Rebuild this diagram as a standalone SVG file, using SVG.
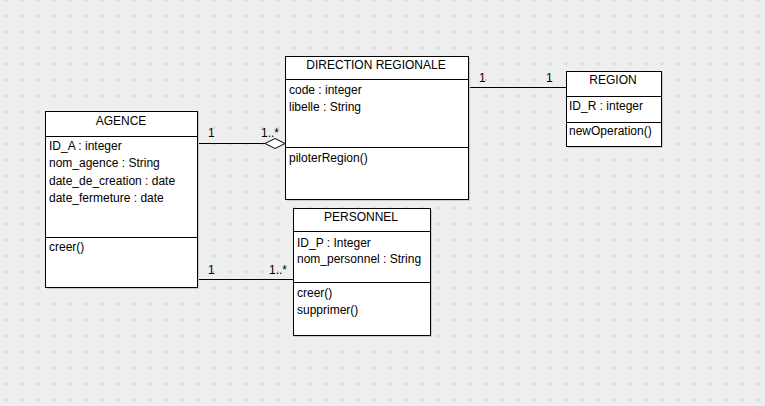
<svg xmlns="http://www.w3.org/2000/svg" width="765" height="406" viewBox="0 0 765 406">
<defs>
<pattern id="grid" x="5" y="-1" width="16" height="16" patternUnits="userSpaceOnUse">
<rect x="0" y="0" width="2" height="2" fill="#d4d4d4"/>
</pattern>
<style>
text{font-family:"Liberation Sans",Arial,sans-serif;font-size:12px;fill:#000}
.t{text-anchor:middle}
.box{fill:#fff;stroke:#000;stroke-width:1}
.sh{fill:#cccccc}
.sep{stroke:#000;stroke-width:1}
.ln{stroke:#000;stroke-width:1;fill:none}
</style>
</defs>
<rect width="765" height="406" fill="#eeeeee"/>
<rect width="765" height="406" fill="url(#grid)"/>

<g id="connectors">
<line class="ln" x1="197" y1="143.5" x2="265" y2="143.5"/>
<polygon points="265,143.5 275,138.5 285,143.5 275,148.5" fill="#fff" stroke="#000" stroke-width="1"/>
<text x="208" y="137">1</text>
<text x="261" y="137">1..*</text>
<line class="ln" x1="468" y1="87.5" x2="566" y2="87.5"/>
<text x="479" y="82">1</text>
<text x="546" y="82">1</text>
<line class="ln" x1="197" y1="279.5" x2="293" y2="279.5"/>
<text x="208" y="274">1</text>
<text x="269" y="274">1..*</text>
</g>

<g id="agence">
<rect class="sh" x="47" y="113" width="152" height="176"/>
<rect class="box" x="45.5" y="111.5" width="152" height="176"/>
<line class="sep" x1="45" y1="136.5" x2="197" y2="136.5"/>
<line class="sep" x1="45" y1="237.5" x2="197" y2="237.5"/>
<text class="t" x="121" y="125">AGENCE</text>
<text x="49" y="150">ID_A : integer</text>
<text x="49" y="167">nom_agence : String</text>
<text x="49" y="185">date_de_creation : date</text>
<text x="49" y="202">date_fermeture : date</text>
<text x="49" y="251">creer()</text>
</g>

<g id="direction-regionale">
<rect class="sh" x="287" y="58" width="183" height="143"/>
<rect class="box" x="285.5" y="56.5" width="183" height="143"/>
<line class="sep" x1="285" y1="79.5" x2="468" y2="79.5"/>
<line class="sep" x1="285" y1="147.5" x2="468" y2="147.5"/>
<text class="t" x="376" y="69">DIRECTION REGIONALE</text>
<text x="289" y="94">code : integer</text>
<text x="289" y="111">libelle : String</text>
<text x="289" y="162">piloterRegion()</text>
</g>

<g id="region">
<rect class="sh" x="568" y="73" width="95" height="75"/>
<rect class="box" x="566.5" y="71.5" width="95" height="75"/>
<line class="sep" x1="566" y1="96.5" x2="661" y2="96.5"/>
<line class="sep" x1="566" y1="122.5" x2="661" y2="122.5"/>
<text class="t" x="613" y="84">REGION</text>
<text x="569" y="110">ID_R : integer</text>
<text x="569" y="135">newOperation()</text>
</g>

<g id="personnel">
<rect class="sh" x="295" y="210" width="137" height="127"/>
<rect class="box" x="293.5" y="208.5" width="137" height="127"/>
<line class="sep" x1="293" y1="231.5" x2="430" y2="231.5"/>
<line class="sep" x1="293" y1="282.5" x2="430" y2="282.5"/>
<text class="t" x="361" y="221">PERSONNEL</text>
<text x="297" y="247">ID_P : Integer</text>
<text x="297" y="263">nom_personnel : String</text>
<text x="297" y="297">creer()</text>
<text x="297" y="314">supprimer()</text>
</g>
</svg>
